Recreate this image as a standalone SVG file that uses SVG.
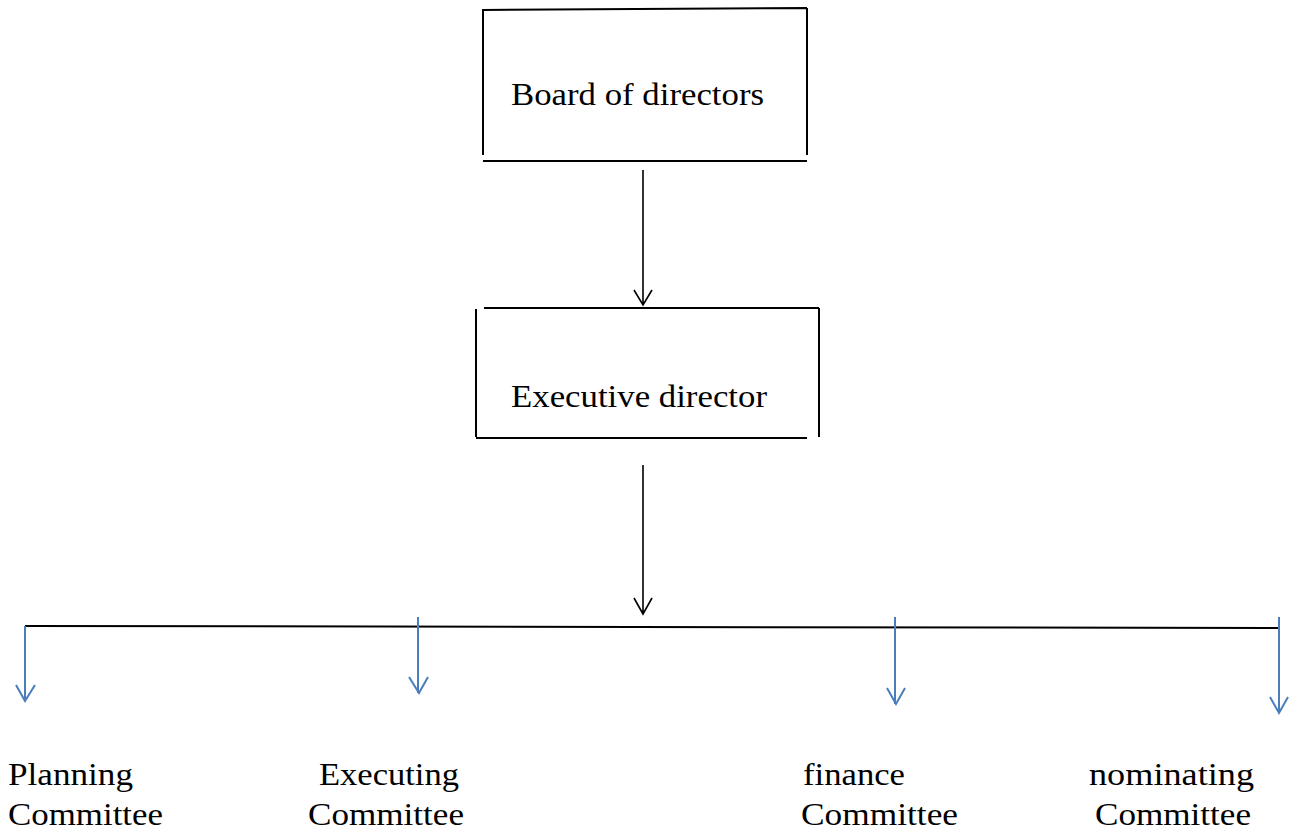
<svg xmlns="http://www.w3.org/2000/svg" width="1290" height="829" viewBox="0 0 1290 829">
<defs>
<style>
.bx{stroke:#000;stroke-width:2;fill:none}
.ln{stroke:#000;stroke-width:1.6;fill:none}
.bl{stroke:#4a7ebb;stroke-width:2;fill:none}
text{font-family:"Liberation Serif","DejaVu Serif",serif;font-size:31px;fill:#000}
</style>
</defs>
<rect width="1290" height="829" fill="#fff"/>
<g id="board">
<path class="bx" d="M483,10 L807,8 M483,9 V155 M807,8 V155 M483,161 H807"/>
<text x="511" y="105" textLength="253" lengthAdjust="spacingAndGlyphs">Board of directors</text>
</g>
<g id="executive">
<path class="bx" d="M484,308 H819 M476,309 V437 M819,308 V437 M476,438 H807"/>
<text x="511" y="407" textLength="256" lengthAdjust="spacingAndGlyphs">Executive director</text>
</g>
<g id="planning">
<text x="8" y="785" textLength="125" lengthAdjust="spacingAndGlyphs">Planning</text>
<text x="8" y="825" textLength="155" lengthAdjust="spacingAndGlyphs">Committee</text>
</g>
<g id="executing">
<text x="319" y="785" textLength="140" lengthAdjust="spacingAndGlyphs">Executing</text>
<text x="308" y="825" textLength="156" lengthAdjust="spacingAndGlyphs">Committee</text>
</g>
<g id="finance">
<text x="803" y="785" textLength="102" lengthAdjust="spacingAndGlyphs">finance</text>
<text x="801" y="825" textLength="157" lengthAdjust="spacingAndGlyphs">Committee</text>
</g>
<g id="nominating">
<text x="1089" y="785" textLength="165" lengthAdjust="spacingAndGlyphs">nominating</text>
<text x="1095" y="825" textLength="156" lengthAdjust="spacingAndGlyphs">Committee</text>
</g>
<g id="connectors">
<path class="ln" d="M643,170 V305 M634,290 L643,305 L652,290"/>
<path class="ln" d="M643,465 V614 M634,598 L643,614 L652,598"/>
<path class="bx" d="M25,626 L1280,628"/>
<path class="bl" d="M25,626 V701 M16,685 L25,701 L35,685"/>
<path class="bl" d="M418,617 V693 M409,677 L419,693 L428,677"/>
<path class="bl" d="M895,617 V704 M887,688 L896,704 L905,688"/>
<path class="bl" d="M1279,617 V713 M1270,697 L1279,713 L1288,697"/>
</g>
</svg>
